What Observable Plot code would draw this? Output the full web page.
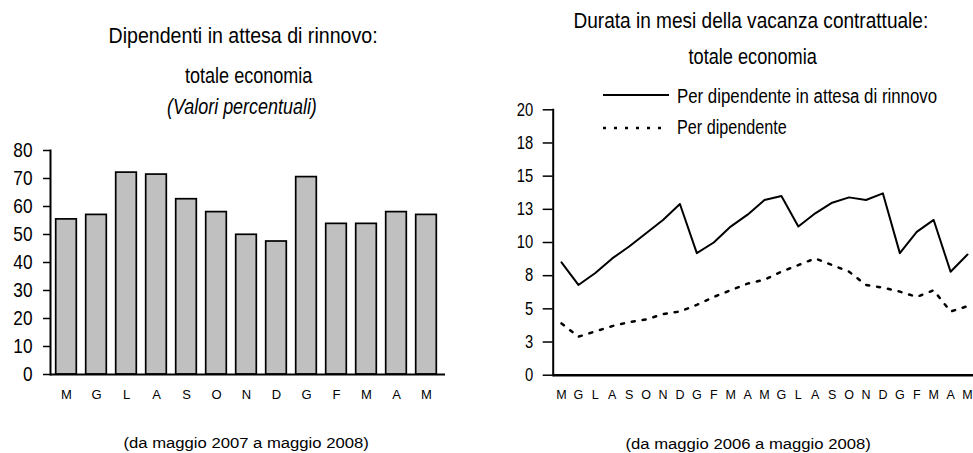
<!DOCTYPE html>
<html>
<head>
<meta charset="utf-8">
<script src="https://cdn.jsdelivr.net/npm/d3@7"></script>
<script src="https://cdn.jsdelivr.net/npm/@observablehq/plot@0.6"></script>
<style>
  html, body { margin: 0; padding: 0; background: white; }
  #root { position: relative; width: 973px; height: 453px; overflow: hidden; background: white; }
  .txt { position: absolute; white-space: nowrap; color: #000; display: inline-block; }
</style>
</head>
<body>
<div id="root"></div>
<script>
// ---- data ----
const barMonths = ["M","G","L","A","S","O","N","D","G","F","M","A","M"];
const barValues = [55.4, 57.0, 72.1, 71.4, 62.6, 58.0, 49.9, 47.5, 70.5, 53.8, 53.8, 58.0, 57.0];
const leftYTicks = [0, 10, 20, 30, 40, 50, 60, 70, 80];

const lineMonths = ["M","G","L","A","S","O","N","D","G","F","M","A","M","G","L","A","S","O","N","D","G","F","M","A","M"];
const waitingRenewal = [8.5, 6.8, 7.7, 8.8, 9.7, 10.7, 11.7, 12.9, 9.2, 10.0, 11.2, 12.1, 13.2, 13.5, 11.2, 12.2, 13.0, 13.4, 13.2, 13.7, 9.2, 10.8, 11.7, 7.8, 9.1];
const perEmployee = [3.9, 2.9, 3.3, 3.7, 4.0, 4.2, 4.6, 4.8, 5.3, 5.9, 6.4, 6.9, 7.2, 7.8, 8.3, 8.8, 8.3, 7.8, 6.8, 6.6, 6.3, 5.9, 6.4, 4.8, 5.2];
const rightYTicks = [0, 2.5, 5, 7.5, 10, 12.5, 15, 17.5, 20];
const rightYLabels = ["0","3","5","8","10","13","15","18","20"];

const FONT = "'Liberation Sans',Arial,sans-serif";

const root = document.getElementById("root");

function place(el, left, top) {
  el.style.position = "absolute";
  el.style.left = left + "px";
  el.style.top = top + "px";
  el.style.maxWidth = "none";
  root.appendChild(el);
}

// text positioned by its baseline, squeezed/stretched horizontally to a target width
function label(text, x, baseline, size, targetWidth, opts = {}) {
  const d = document.createElement("span");
  d.className = "txt";
  d.textContent = text;
  d.style.fontSize = size + "px";
  d.style.lineHeight = size + "px";
  d.style.fontFamily = FONT;
  if (opts.italic) d.style.fontStyle = "italic";
  root.appendChild(d);
  const w = d.offsetWidth;
  const s = targetWidth ? targetWidth / w : 1;
  if (opts.align === "left") {
    d.style.left = x + "px";
    d.style.transformOrigin = "left center";
  } else {
    d.style.left = (x - w / 2) + "px";
    d.style.transformOrigin = "center center";
  }
  d.style.transform = `scaleX(${s})`;
  d.style.top = (baseline - 0.85 * size) + "px";
}

// squeeze the y tick labels like a condensed face
function condense(svg, factor) {
  svg.querySelectorAll("g[aria-label='y-axis tick label'] text").forEach(t => {
    const L = t.getComputedTextLength();
    t.setAttribute("textLength", L * factor);
    t.setAttribute("lengthAdjust", "spacingAndGlyphs");
  });
}

// ---- left chart ----
const left = Plot.plot({
  width: 460, height: 280,
  marginTop: 15, marginBottom: 41, marginLeft: 50, marginRight: 15,
  style: { background: "white", color: "black" },
  x: { type: "band", domain: d3.range(barValues.length), range: [48.5, 444.2], padding: 0, axis: null },
  y: { domain: [0, 80], axis: null },
  marks: [
    Plot.barY(barValues, { x: (d, i) => i, y: d => d, insetLeft: 4.7, insetRight: 4.7, fill: "#c0c0c0", stroke: "#000", strokeWidth: 1.7 }),
    Plot.axisY({ ticks: leftYTicks, tickSize: 7, tickPadding: 11, fontSize: 21, fontFamily: FONT, strokeWidth: 1.5, label: null }),
    Plot.axisX({ tickFormat: i => barMonths[i], tickSize: 0, tickPadding: 15, fontSize: 13, fontFamily: FONT, label: null }),
    Plot.ruleY([0], { strokeWidth: 2 }),
    Plot.frame({ anchor: "left", strokeWidth: 2 })
  ]
});
place(left, 0, 135);
condense(left, 0.82);

// ---- right chart ----
const monthIdx = d3.range(lineMonths.length);
const right = Plot.plot({
  width: 483, height: 305,
  marginTop: 9.3, marginBottom: 30.3, marginLeft: 62.7, marginRight: 0,
  style: { background: "white", color: "black" },
  x: { type: "linear", domain: [0, lineMonths.length - 1], range: [71, 477], axis: null },
  y: { domain: [0, 20], axis: null },
  marks: [
    Plot.axisY({ ticks: rightYTicks, tickFormat: d => rightYLabels[rightYTicks.indexOf(d)], tickSize: 10, tickPadding: 10, fontSize: 18, fontFamily: FONT, strokeWidth: 1.5, label: null }),
    Plot.axisX({ ticks: monthIdx, tickFormat: i => lineMonths[i], tickSize: 0, tickPadding: 15, fontSize: 12.5, fontFamily: FONT, label: null }),
    Plot.ruleY([0], { strokeWidth: 2.5 }),
    Plot.frame({ anchor: "left", strokeWidth: 2 }),
    Plot.line(waitingRenewal, { x: (d, i) => i, y: d => d, stroke: "#000", strokeWidth: 2 }),
    Plot.line(perEmployee, { x: (d, i) => i, y: d => d, stroke: "#000", strokeWidth: 2.5, strokeDasharray: "3,8" })
  ]
});
place(right, 490, 100);
condense(right, 0.82);

// ---- titles ----
label("Dipendenti in attesa di rinnovo:", 242.5, 44, 22, 269);
label("totale economia", 248.5, 84, 22, 127);
label("(Valori percentuali)", 242, 115, 22, 150, { italic: true });

label("Durata in mesi della vacanza contrattuale:", 750.5, 29, 22, 355);
label("totale economia", 752, 65, 22, 128);

// ---- legend ----
function swatch(dash, y) {
  const ns = "http://www.w3.org/2000/svg";
  const s = document.createElementNS(ns, "svg");
  s.setAttribute("width", 70); s.setAttribute("height", 8);
  const l = document.createElementNS(ns, "line");
  l.setAttribute("x1", 0); l.setAttribute("x2", 66); l.setAttribute("y1", 4); l.setAttribute("y2", 4);
  l.setAttribute("stroke", "#000");
  l.setAttribute("stroke-width", dash ? 2.5 : 2);
  if (dash) l.setAttribute("stroke-dasharray", dash);
  s.appendChild(l);
  s.style.position = "absolute";
  s.style.left = "603px";
  s.style.top = (y - 4) + "px";
  root.appendChild(s);
}
swatch(null, 95);
swatch("3,8", 128);
label("Per dipendente in attesa di rinnovo", 677, 103, 20, 260, { align: "left" });
label("Per dipendente", 677, 134, 20, 110, { align: "left" });

// ---- captions ----
label("(da maggio 2007 a maggio 2008)", 245.5, 448, 14, 245);
label("(da maggio 2006 a maggio 2008)", 747.5, 449, 14, 245);
</script>
</body>
</html>
